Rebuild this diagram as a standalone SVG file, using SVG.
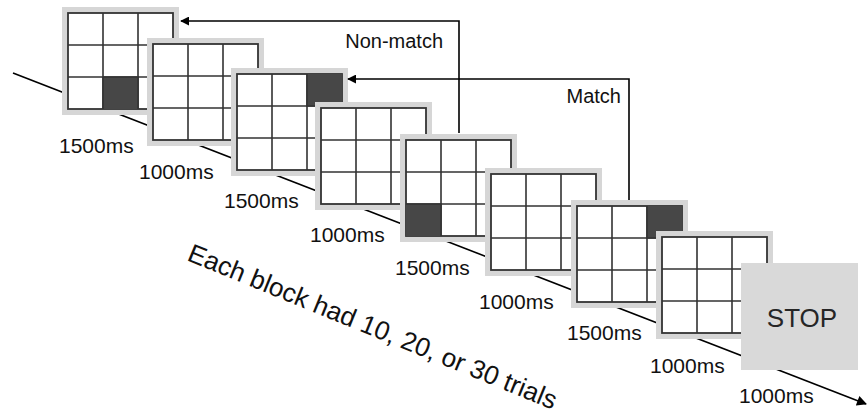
<svg xmlns="http://www.w3.org/2000/svg" width="867" height="418" viewBox="0 0 867 418">
  <style>
    .frame { fill: #d6d6d6; }
    .grid { fill: #ffffff; stroke: #333333; stroke-width: 1.8; }
    .gl { stroke: #333333; stroke-width: 1.6; fill: none; }
    .on { fill: #474747; }
    .lbl { font-family: "Liberation Sans", Arial, sans-serif; font-size: 20px; fill: #111111; }
    .dur { font-family: "Liberation Sans", Arial, sans-serif; font-size: 21px; fill: #111111; }
    .wire { fill: none; stroke: #000000; stroke-width: 1.6; }
  </style>
  <defs>
    <marker id="ah" viewBox="0 0 10 10" refX="9" refY="5" markerWidth="9" markerHeight="9" markerUnits="userSpaceOnUse" orient="auto">
      <path d="M0,0 L10,5 L0,10 z" fill="#000000"/>
    </marker>
    <marker id="ahT" viewBox="0 0 10 10" refX="9" refY="5" markerWidth="11" markerHeight="10" markerUnits="userSpaceOnUse" orient="auto">
      <path d="M0,0 L10,5 L0,10 z" fill="#000000"/>
    </marker>
    <!-- 3x3 grid, 105 x 96, with light grey surround -->
    <g id="grid3">
      <rect class="frame" x="-6" y="-6" width="117" height="108"/>
      <rect class="grid" x="0" y="0" width="105" height="96"/>
      <path class="gl" d="M35,0 V96 M70,0 V96 M0,32 H105 M0,64 H105"/>
    </g>
  </defs>

  <!-- time axis -->
  <g id="connectors">
    <line class="wire" x1="13" y1="73" x2="866" y2="404" stroke-width="2" marker-end="url(#ahT)"/>
  </g>

  <g id="frame1" transform="translate(68,13)">
    <use href="#grid3"/>
    <rect class="on" x="35" y="64" width="35" height="32"/>
    <path class="gl" d="M35,64 V96 M35,64 H70 V96"/>
  </g>
  <g id="frame2" transform="translate(153,44)">
    <use href="#grid3"/>
  </g>
  <g id="frame3" transform="translate(237,74)">
    <use href="#grid3"/>
    <rect class="on" x="70" y="0" width="35" height="32"/>
    <path class="gl" d="M70,0 V32 H105"/>
  </g>
  <g id="frame4" transform="translate(321,108)">
    <use href="#grid3"/>
  </g>
  <g id="frame5" transform="translate(406,140)">
    <use href="#grid3"/>
    <rect class="on" x="0" y="64" width="35" height="32"/>
    <path class="gl" d="M0,64 H35 V96"/>
  </g>
  <g id="frame6" transform="translate(491,174)">
    <use href="#grid3"/>
  </g>
  <g id="frame7" transform="translate(577,206)">
    <use href="#grid3"/>
    <rect class="on" x="70" y="0" width="35" height="32"/>
    <path class="gl" d="M70,0 V32 H105"/>
  </g>
  <g id="frame8" transform="translate(662,237)">
    <use href="#grid3"/>
  </g>
  <g id="stop">
    <rect x="741" y="263" width="117" height="107" fill="#d9d9d9"/>
    <text x="802" y="327" text-anchor="middle" font-family="'Liberation Sans', Arial, sans-serif" font-size="26" fill="#262626">STOP</text>
  </g>

  <!-- feedback loops -->
  <g id="loops">
    <polyline class="wire" points="459,133 459,21 181,21" marker-end="url(#ah)"/>
    <polyline class="wire" points="629,200 629,79 348,79" marker-end="url(#ah)"/>
    <text class="lbl" x="443" y="48" text-anchor="end">Non-match</text>
    <text class="lbl" x="621" y="103" text-anchor="end">Match</text>
  </g>

  <!-- durations -->
  <g id="durations">
    <text class="dur" x="59" y="153">1500ms</text>
    <text class="dur" x="139" y="179">1000ms</text>
    <text class="dur" x="224" y="208">1500ms</text>
    <text class="dur" x="310" y="242">1000ms</text>
    <text class="dur" x="395" y="275">1500ms</text>
    <text class="dur" x="479" y="309">1000ms</text>
    <text class="dur" x="567" y="340">1500ms</text>
    <text class="dur" x="650" y="373">1000ms</text>
    <text class="dur" x="739" y="403">1000ms</text>
  </g>

  <text id="caption" transform="translate(186,260) rotate(22.2)" font-family="'Liberation Sans', Arial, sans-serif" font-size="26.2" fill="#111111">Each block had 10, 20, or 30 trials</text>
</svg>
